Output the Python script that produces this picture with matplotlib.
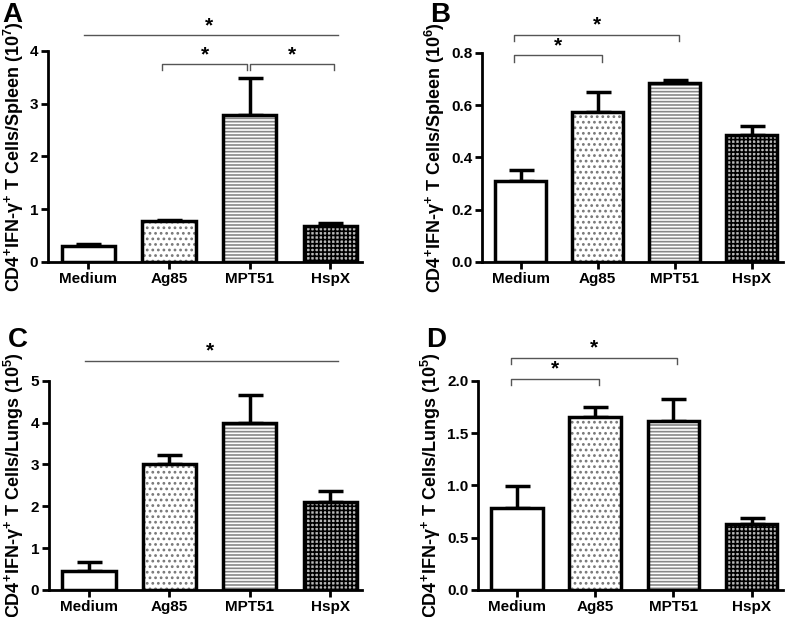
import numpy as np
import matplotlib
matplotlib.use("Agg")
import matplotlib.pyplot as plt

plt.rcParams['font.family'] = ['Liberation Sans', 'DejaVu Sans']
plt.rcParams['font.weight'] = 'bold'
plt.rcParams['mathtext.fontset'] = 'custom'
plt.rcParams['mathtext.rm'] = 'Liberation Sans:bold'
plt.rcParams['mathtext.bf'] = 'Liberation Sans:bold'
plt.rcParams['mathtext.it'] = 'Liberation Sans:italic:bold'
plt.rcParams['mathtext.default'] = 'bf'
plt.rcParams['hatch.linewidth'] = 1.2

# -------------------------------
# Dados
# -------------------------------
groups = ["Medium", "Ag85", "MPT51", "HspX"]

spleen_a = [0.30, 0.78, 2.78, 0.68]
spleen_a_err = [0.05, 0.02, 0.70, 0.06]

spleen_b = [0.31, 0.575, 0.685, 0.485]
spleen_b_err = [0.04, 0.075, 0.010, 0.035]

lungs_c = [0.45, 3.00, 4.00, 2.10]
lungs_c_err = [0.23, 0.22, 0.65, 0.27]

lungs_d = [0.78, 1.65, 1.62, 0.63]
lungs_d_err = [0.21, 0.10, 0.21, 0.06]

# (grupo1, grupo2, altura, tipo) - "line" = linha simples, "bracket" = colchete
sig_a = [(0, 3, 4.30, "line"), (1, 2, 3.75, "bracket"), (2, 3, 3.75, "bracket")]
sig_b = [(0, 1, 0.79, "bracket"), (0, 2, 0.87, "bracket")]
sig_c = [(0, 3, 5.48, "line")]
sig_d = [(0, 1, 2.02, "bracket"), (0, 2, 2.22, "bracket")]

panels = [
    ("A", spleen_a, spleen_a_err, sig_a, [0, 1, 2, 3, 4], "%d", "Spleen", 7,
     [0.060, 0.5754, 0.393, 0.342], (0.003, 0.997)),
    ("B", spleen_b, spleen_b_err, sig_b, [0.0, 0.2, 0.4, 0.6, 0.8], "%.1f", "Spleen", 6,
     [0.6025, 0.5754, 0.376, 0.339], (0.538, 0.997)),
    ("C", lungs_c, lungs_c_err, sig_c, [0, 1, 2, 3, 4, 5], "%d", "Lungs", 5,
     [0.061, 0.0438, 0.392, 0.339], (0.010, 0.470)),
    ("D", lungs_d, lungs_d_err, sig_d, [0.0, 0.5, 1.0, 1.5, 2.0], "%.1f", "Lungs", 5,
     [0.5975, 0.0438, 0.381, 0.339], (0.533, 0.470)),
]

# estilo de cada barra: (cor de fundo, hachura, cor da hachura)
bar_styles = [
    ("white", None, "black"),
    ("white", "...", "#777777"),
    ("white", "-----", "#888888"),
    ("#b8b8b8", "++++", "black"),
]

fig = plt.figure(figsize=(8, 6.17), dpi=100)

for letter, vals, errs, sigs, yticks, fmt, organ, exp, rect, lpos in panels:
    ax = fig.add_axes(rect)
    x = np.arange(len(groups))
    width = 0.66
    ymax = yticks[-1]

    # barras com hachura (sem borda) + borda preta por cima
    for i in range(len(groups)):
        fc, hatch, hc = bar_styles[i]
        ax.bar(x[i], vals[i], width, color=fc, edgecolor=hc, hatch=hatch,
               linewidth=0, zorder=2)
        ax.bar(x[i], vals[i], width, facecolor="none", edgecolor="black",
               linewidth=2.5, zorder=3)

    # barras de erro (somente para cima)
    ax.errorbar(x, vals, yerr=[np.zeros(len(vals)), errs], fmt="none",
                ecolor="black", elinewidth=2.5, capsize=9, capthick=2.5, zorder=1)

    # significância
    tick = ymax * 0.03
    for g1, g2, h, kind in sigs:
        if kind == "line":
            ax.plot([x[g1] - 0.05, x[g2] + 0.1], [h, h], color="#555555", lw=1,
                    clip_on=False)
            ax.text((x[g1] + x[g2]) / 2, h, "*", ha="center", va="bottom",
                    fontsize=15, clip_on=False)
        else:
            x1, x2 = x[g1] - 0.08, x[g2] + 0.05
            if g1 == 2:
                x1 = x[g1] + 0.0
            if g2 == 2 and g1 == 1:
                x2 = x[g2] - 0.03
            ax.plot([x1, x1, x2, x2], [h - tick, h, h, h - tick], color="#555555",
                    lw=1, clip_on=False)
            ax.text((x1 + x2) / 2, h, "*", ha="center", va="bottom",
                    fontsize=15, clip_on=False)

    ax.set_xlim(-0.5, 3.4)
    ax.set_ylim(0, ymax)
    ax.set_yticks(yticks)
    ax.set_yticklabels([fmt % t for t in yticks])
    ax.set_xticks(x)
    ax.set_xticklabels(groups)
    ax.tick_params(width=2, length=5, labelsize=11, pad=2)
    for lab in ax.get_xticklabels() + ax.get_yticklabels():
        lab.set_fontweight("bold")
    ax.spines["top"].set_visible(False)
    ax.spines["right"].set_visible(False)
    ax.spines["left"].set_linewidth(2)
    ax.spines["bottom"].set_linewidth(2)

    ax.set_ylabel(r"CD4$^{+}$IFN-$\gamma^{+}$ T Cells/%s (10$^{%d}$)" % (organ, exp),
                  fontsize=13, fontweight="bold", labelpad=3)

    # letra do painel
    fig.text(lpos[0], lpos[1], letter, fontsize=20, fontweight="bold",
             ha="left", va="top")

fig.savefig("out.png", dpi=100)
